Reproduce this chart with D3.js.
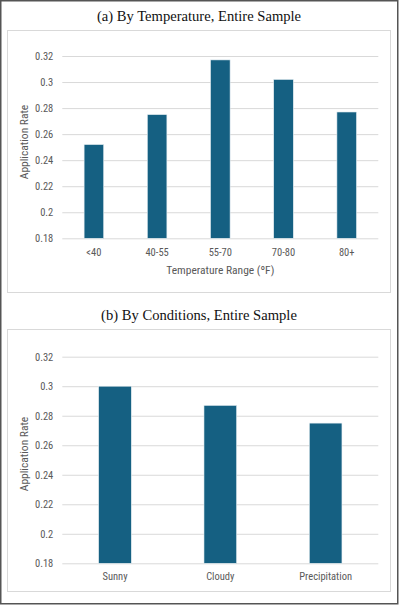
<!DOCTYPE html>
<html>
<head>
<meta charset="utf-8">
<script src="https://cdn.jsdelivr.net/npm/d3@7"></script>
<style>
  body { margin: 0; background: #fff; }
  svg { display: block; }
</style>
</head>
<body>
<svg id="chart" width="399" height="605"></svg>
<script>
// Panel (a): temperature
const tempCategories = ['<40', '40-55', '55-70', '70-80', '80+'];
const tempRates = [0.252, 0.275, 0.317, 0.302, 0.277];

// Panel (b): weather conditions
const condCategories = ['Sunny', 'Cloudy', 'Precipitation'];
const condRates = [0.300, 0.287, 0.275];

const yTicks = [0.18, 0.2, 0.22, 0.24, 0.26, 0.28, 0.3, 0.32];

const barColor = '#156082';
const textColor = '#595959';
const gridColor = '#d9d9d9';
const labelFont = '"Liberation Sans Narrow", "Roboto Condensed", Roboto, sans-serif';

const svg = d3.select('#chart');

// outer frame
svg.append('rect')
  .attr('x', 0.75).attr('y', 0.75)
  .attr('width', 397).attr('height', 603)
  .attr('fill', 'none')
  .attr('stroke', '#555')
  .attr('stroke-width', 1.5);

function drawPanel(opts) {
  const g = svg.append('g');

  // title above the box
  g.append('text')
    .attr('x', 199)
    .attr('y', opts.titleY)
    .attr('text-anchor', 'middle')
    .attr('font-family', '"Liberation Serif", "DejaVu Serif", serif')
    .attr('font-size', 14.6)
    .attr('fill', '#111')
    .text(opts.title);

  // chart box
  g.append('rect')
    .attr('x', 7.5).attr('y', opts.boxTop + 0.5)
    .attr('width', 383).attr('height', opts.boxHeight)
    .attr('fill', '#fff')
    .attr('stroke', gridColor)
    .attr('stroke-width', 1);

  const x = d3.scaleBand()
    .domain(opts.categories)
    .range([62.3, 378.3])
    .padding(0);
  const y = d3.scaleLinear()
    .domain([0.18, 0.32])
    .range([opts.plotBottom, opts.plotTop]);

  // gridlines + y labels
  const yAxis = d3.axisLeft(y)
    .tickValues(yTicks)
    .tickSize(-(378.3 - 62.3))
    .tickPadding(9)
    .tickFormat(d => d3.format('')(+d.toFixed(2)));
  const ya = g.append('g')
    .attr('transform', 'translate(62.3,0)')
    .call(yAxis);
  ya.select('.domain').remove();
  ya.selectAll('.tick line').attr('stroke', gridColor).attr('stroke-width', 1);
  ya.selectAll('.tick text')
    .attr('fill', textColor)
    .attr('font-family', labelFont)
    .attr('font-size', 10.5);

  // bars
  const barW = x.step() * 0.31;
  g.selectAll('rect.bar')
    .data(opts.values)
    .enter()
    .append('rect')
      .attr('class', 'bar')
      .attr('x', (d, i) => x(opts.categories[i]) + x.step() / 2 - barW / 2)
      .attr('y', d => y(d))
      .attr('width', barW)
      .attr('height', d => y(0.18) - y(d))
      .attr('fill', barColor)
      .attr('stroke', '#e6eef2')
      .attr('stroke-width', 0.6);

  // x labels
  const xAxis = d3.axisBottom(x).tickSize(0).tickPadding(opts.xPad);
  const xa = g.append('g')
    .attr('transform', `translate(0,${opts.plotBottom})`)
    .call(xAxis);
  xa.select('.domain').remove();
  xa.selectAll('.tick text')
    .attr('fill', textColor)
    .attr('font-family', labelFont)
    .attr('font-size', 10.5);

  // axis titles
  g.append('text')
    .attr('transform', `translate(${opts.yTitleX},${opts.yTitleY}) rotate(-90)`)
    .attr('text-anchor', 'middle')
    .attr('fill', textColor)
    .attr('font-family', labelFont)
    .attr('font-size', 11.5)
    .text('Application Rate');

  if (opts.xTitle) {
    g.append('text')
      .attr('x', 220.3)
      .attr('y', opts.xTitleY)
      .attr('text-anchor', 'middle')
      .attr('fill', textColor)
      .attr('font-family', labelFont)
      .attr('font-size', 11.5)
      .text(opts.xTitle);
  }
}

drawPanel({
  title: '(a) By Temperature, Entire Sample',
  titleY: 21,
  boxTop: 30,
  boxHeight: 262,
  plotTop: 56,
  plotBottom: 238.3,
  categories: tempCategories,
  values: tempRates,
  xPad: 10,
  yTitleX: 28,
  yTitleY: 142,
  xTitle: 'Temperature Range (ºF)',
  xTitleY: 274
});

drawPanel({
  title: '(b) By Conditions, Entire Sample',
  titleY: 320,
  boxTop: 329,
  boxHeight: 262,
  plotTop: 356.7,
  plotBottom: 563.3,
  categories: condCategories,
  values: condRates,
  xPad: 9,
  yTitleX: 28,
  yTitleY: 454,
  xTitle: null
});
</script>
</body>
</html>
